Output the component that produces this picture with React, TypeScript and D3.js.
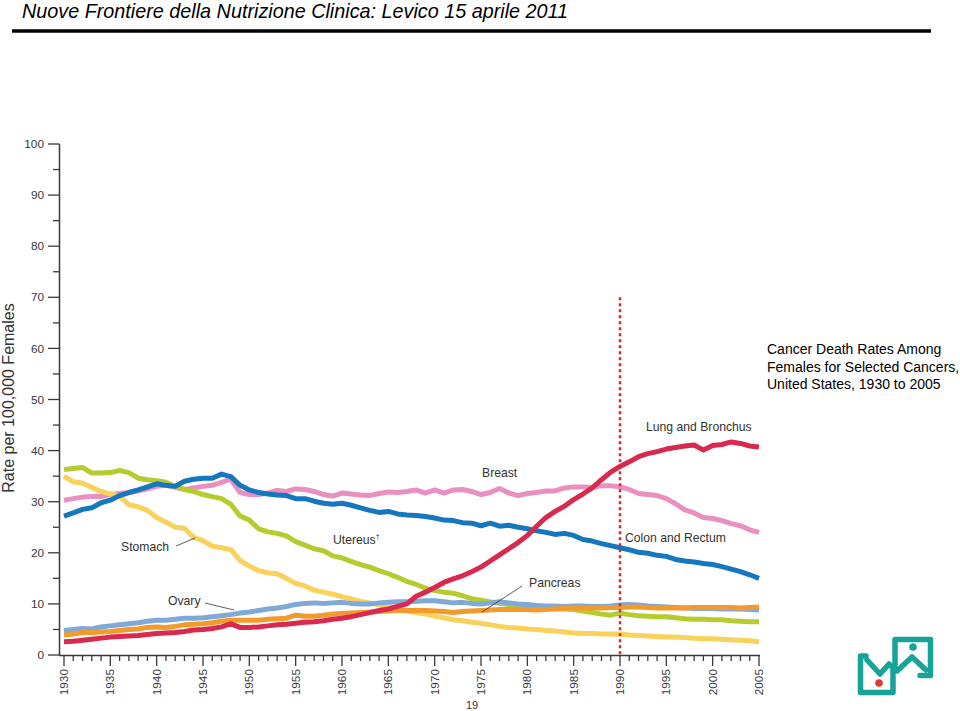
import React from "react";
import * as d3 from "d3";

const years: number[] = d3.range(1930, 2006);

const colon = [27.2,27.8,28.5,28.8,29.8,30.3,31.2,31.8,32.3,32.9,33.5,33.2,33.0,34.0,34.4,34.6,34.6,35.4,34.9,33.2,32.3,31.8,31.5,31.3,31.2,30.6,30.6,30.1,29.7,29.5,29.7,29.3,28.8,28.3,27.9,28.1,27.6,27.4,27.3,27.1,26.8,26.4,26.3,25.9,25.8,25.3,25.8,25.2,25.4,25.0,24.7,24.3,24.0,23.6,23.8,23.4,22.6,22.3,21.8,21.4,21.0,20.6,20.1,19.9,19.5,19.3,18.7,18.4,18.2,17.9,17.7,17.3,16.8,16.3,15.7,15.0];
const breast = [30.3,30.6,30.9,31.0,31.0,31.4,31.6,31.8,32.1,32.5,33.0,33.2,32.8,32.4,32.7,33.0,33.2,33.8,34.4,31.8,31.4,31.4,31.7,32.2,32.0,32.5,32.4,32.0,31.4,31.1,31.7,31.5,31.3,31.2,31.6,31.9,31.8,32.0,32.3,31.7,32.3,31.7,32.3,32.4,32.0,31.4,31.8,32.6,31.7,31.2,31.6,31.8,32.1,32.1,32.7,32.9,32.9,32.8,33.1,33.1,32.9,32.4,31.6,31.4,31.2,30.6,29.6,28.4,27.8,26.9,26.7,26.3,25.7,25.3,24.5,24.0];
const lung = [2.6,2.7,2.9,3.1,3.3,3.5,3.6,3.7,3.8,4.0,4.2,4.3,4.4,4.6,4.9,5.0,5.2,5.5,6.1,5.4,5.4,5.5,5.7,5.9,6.0,6.2,6.4,6.5,6.7,7.0,7.2,7.5,7.9,8.3,8.7,9.0,9.5,10.0,11.5,12.3,13.2,14.2,14.9,15.5,16.3,17.2,18.4,19.6,20.8,22.0,23.4,25.2,26.9,28.1,29.1,30.4,31.5,32.7,34.3,35.8,36.9,37.8,38.8,39.4,39.8,40.3,40.6,40.9,41.1,40.1,41.0,41.2,41.7,41.4,40.9,40.7];
const uterus = [36.3,36.5,36.7,35.6,35.6,35.7,36.1,35.7,34.6,34.3,34.1,33.8,33.0,32.4,32.0,31.4,31.0,30.6,29.5,27.2,26.4,24.7,24.1,23.8,23.3,22.2,21.5,20.8,20.4,19.4,19.0,18.3,17.7,17.2,16.5,15.9,15.2,14.4,13.8,13.1,12.6,12.3,12.1,11.6,11.0,10.7,10.4,10.1,9.9,9.7,9.5,9.5,9.3,9.1,9.0,8.9,8.6,8.3,8.0,7.8,8.2,7.9,7.7,7.6,7.5,7.5,7.3,7.1,7.0,7.0,6.9,6.9,6.7,6.6,6.5,6.5];
const stomach = [35.0,33.9,33.6,32.8,32.0,31.5,31.1,29.4,29.0,28.3,26.9,26.0,25.0,24.8,23.0,22.4,21.3,21.0,20.6,18.5,17.4,16.5,16.1,15.9,15.0,14.0,13.5,12.7,12.3,11.9,11.4,11.0,10.5,10.2,9.8,9.4,9.0,8.6,8.3,8.0,7.6,7.3,6.9,6.7,6.4,6.2,5.9,5.6,5.4,5.3,5.1,5.0,4.8,4.7,4.5,4.3,4.2,4.2,4.1,4.1,4.1,3.9,3.8,3.7,3.6,3.5,3.5,3.4,3.3,3.2,3.2,3.1,3.0,2.9,2.8,2.6];
const ovary = [4.8,5.0,5.2,5.1,5.5,5.7,5.9,6.1,6.3,6.6,6.8,6.8,7.0,7.2,7.2,7.3,7.5,7.7,7.9,8.2,8.4,8.7,9.0,9.2,9.5,9.9,10.1,10.2,10.1,10.2,10.3,10.1,10.0,10.0,10.2,10.3,10.4,10.4,10.5,10.6,10.6,10.4,10.2,10.3,10.1,10.0,10.2,10.4,10.2,10.0,9.9,9.7,9.6,9.6,9.5,9.6,9.6,9.5,9.5,9.6,9.8,9.9,9.8,9.6,9.5,9.4,9.3,9.2,9.1,9.1,9.1,9.0,9.0,9.0,8.9,8.8];
const pancreas = [3.9,4.1,4.4,4.4,4.5,4.6,4.8,5.0,5.1,5.4,5.5,5.4,5.6,5.9,6.0,6.1,6.3,6.6,6.8,6.8,6.8,6.8,7.0,7.1,7.2,7.8,7.6,7.6,7.8,8.0,8.1,8.2,8.3,8.4,8.5,8.6,8.7,8.7,8.7,8.7,8.6,8.5,8.3,8.5,8.6,8.7,8.8,8.9,8.9,8.9,8.9,8.8,8.9,9.0,9.1,9.2,9.2,9.2,9.2,9.3,9.3,9.4,9.4,9.3,9.2,9.2,9.2,9.2,9.3,9.3,9.3,9.3,9.3,9.2,9.3,9.4];

const seriesNames = ["Breast", "Uterus", "Stomach", "Ovary", "Pancreas", "Colon and Rectum", "Lung and Bronchus"];
const seriesValues = [breast, uterus, stomach, ovary, pancreas, colon, lung];
const seriesColors = ["#ea8fc0", "#b6cc2e", "#f8d25a", "#7fa9d9", "#f29a2c", "#1577bd", "#d8294f"];

const yTicks = [0, 10, 20, 30, 40, 50, 60, 70, 80, 90, 100];
const markerYear = 1990;
const markerTop = 70;

const title = "Nuove Frontiere della Nutrizione Clinica: Levico 15 aprile 2011";
const caption = ["Cancer Death Rates Among", "Females for Selected Cancers,", "United States, 1930 to 2005"];

export default function App() {
  const x = d3.scaleLinear().domain([1930, 2005]).range([64, 759]);
  const y = d3.scaleLinear().domain([0, 100]).range([655, 144]);
  const line = d3
    .line<number>()
    .x((_, i) => x(years[i]))
    .y((d) => y(d))
    .curve(d3.curveLinear);

  const font = "Arial, 'Liberation Sans', sans-serif";
  const axisColor = "#3a3a3a";
  const labelColor = "#3a3a3a";
  const teal = "#17a398";

  const minorY = d3.range(5, 100, 10);

  return (
    <svg
      width={960}
      height={711}
      style={{ position: "absolute", left: 0, top: 0, background: "#fff" }}
      fontFamily={font}
    >
      <rect x={0} y={0} width={960} height={711} fill="#fff" />
      {/* header */}
      <text
        x={22}
        y={18}
        fontSize={19.8}
        fontStyle="italic"
        fontFamily="'Liberation Sans Narrow', 'Arial Narrow', sans-serif"
        fill="#000"
      >
        {title}
      </text>
      <line x1={12} x2={931} y1={31} y2={31} stroke="#000" strokeWidth={3.5} />

      {/* y axis */}
      <line x1={59.5} x2={59.5} y1={y(100)} y2={656} stroke={axisColor} strokeWidth={1.5} />
      {yTicks.map((t) => (
        <g key={"y" + t}>
          <line x1={48} x2={59.5} y1={y(t)} y2={y(t)} stroke={axisColor} strokeWidth={1.3} />
          <text x={44} y={y(t)} dy="0.35em" textAnchor="end" fontSize={11.8} fill={labelColor}>
            {t}
          </text>
        </g>
      ))}
      {minorY.map((t) => (
        <line key={"ym" + t} x1={53} x2={59.5} y1={y(t)} y2={y(t)} stroke={axisColor} strokeWidth={1.3} />
      ))}
      <text
        transform={`translate(14,398) rotate(-90)`}
        textAnchor="middle"
        fontSize={16}
        fill="#333"
      >
        Rate per 100,000 Females
      </text>

      {/* x axis */}
      <line x1={59} x2={760} y1={655.5} y2={655.5} stroke={axisColor} strokeWidth={1.5} />
      {years.map((yr) => {
        const major = yr % 5 === 0;
        return (
          <g key={"x" + yr}>
            <line
              x1={x(yr)}
              x2={x(yr)}
              y1={655.5}
              y2={major ? 666 : 661}
              stroke={axisColor}
              strokeWidth={1.3}
            />
            {major && (
              <text
                transform={`translate(${x(yr)},669) rotate(-90)`}
                textAnchor="end"
                dy="0.35em"
                fontSize={11.8}
                fill={labelColor}
              >
                {yr}
              </text>
            )}
          </g>
        );
      })}

      {/* series */}
      {seriesValues.map((vals, i) => (
        <path
          key={seriesNames[i]}
          d={line(vals) || ""}
          fill="none"
          stroke={seriesColors[i]}
          strokeWidth={5}
          strokeLinejoin="round"
          strokeLinecap="butt"
        />
      ))}

      {/* 1990 marker */}
      <line
        x1={x(markerYear)}
        x2={x(markerYear)}
        y1={y(markerTop)}
        y2={655}
        stroke="#e0262a"
        strokeWidth={2.5}
        strokeDasharray="3,3"
      />

      {/* annotations */}
      <g fontSize={12.2} fill="#333">
        <text x={646} y={431}>Lung and Bronchus</text>
        <text x={482} y={477}>Breast</text>
        <text x={625} y={542}>Colon and Rectum</text>
        <text x={333} y={544}>
          Utereus<tspan fontSize={7} dy={-5}>†</tspan>
        </text>
        <text x={121} y={551}>Stomach</text>
        <text x={168} y={605}>Ovary</text>
        <text x={529} y={587}>Pancreas</text>
      </g>
      <line x1={176} x2={195} y1={546} y2={538} stroke="#333" strokeWidth={0.8} />
      <line x1={205} x2={234} y1={603} y2={610} stroke="#333" strokeWidth={0.8} />
      <line x1={522} x2={482} y1={586} y2={612} stroke="#333" strokeWidth={0.8} />

      {/* caption */}
      <g fontSize={14} fill="#000">
        {caption.map((c, i) => (
          <text key={i} x={767} y={354 + i * 17.5}>
            {c}
          </text>
        ))}
      </g>

      {/* page number */}
      <text x={472} y={709} textAnchor="middle" fontSize={11} fill="#333">
        19
      </text>

      {/* logo */}
      <g fill="none" stroke={teal} strokeWidth={5.5} strokeLinejoin="round" strokeLinecap="round">
        <path d="M866,656 L860.5,656 L860.5,692.5 L893,692.5 L893,668" />
        <path d="M895,666 L895,639.5 L930.5,639.5 L930.5,675.5 L920,675.5" />
        <path d="M867,660 L880,674 L889,664 L897,671 L912,657 L926,670" />
      </g>
      <circle cx={913} cy={647} r={3.8} fill={teal} />
      <circle cx={879} cy={683} r={3.8} fill="#e4392b" />
    </svg>
  );
}
